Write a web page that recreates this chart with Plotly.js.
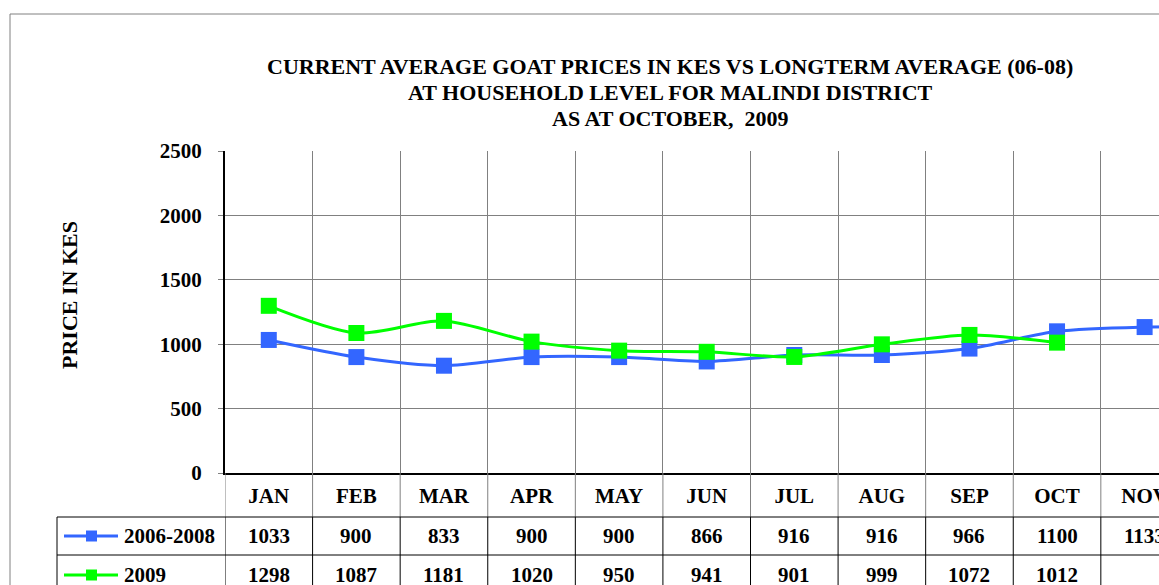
<!DOCTYPE html>
<html>
<head>
<meta charset="utf-8">
<script src="https://cdn.plot.ly/plotly-3.0.1.min.js"></script>
<style>
html,body{margin:0;padding:0;overflow:hidden;background:#fff;width:1159px;height:585px;}
#chart{position:absolute;left:0;top:0;}
</style>
</head>
<body>
<div id="chart"></div>
<script>
var months = ["JAN","FEB","MAR","APR","MAY","JUN","JUL","AUG","SEP","OCT","NOV","DEC"];
var seriesNames = ["2006-2008","2009"];
var longTerm = [1033, 900, 833, 900, 900, 866, 916, 916, 966, 1100, 1133, 1133];
var current2009 = [1298, 1087, 1181, 1020, 950, 941, 901, 999, 1072, 1012, null, null];
var yTicks = [0, 500, 1000, 1500, 2000, 2500];
var titleLines = ["CURRENT AVERAGE GOAT PRICES IN KES VS LONGTERM AVERAGE (06-08)", "AT HOUSEHOLD LEVEL FOR MALINDI DISTRICT", "AS AT OCTOBER,  2009"];
var yTitle = "PRICE IN KES";

var BLUE = "#3366FF", GREEN = "#00FF00";
var W = 1400, H = 640;
var L = 225, T = 151, PH = 322, PW = 1051;
var R = W - L - PW, B = H - T - PH;
function py(p){ return (T + PH - p) / PH; }   // pixel y -> paper y
function px(p){ return (p - L) / PW; }        // pixel x -> paper x
var FAM = "Liberation Serif, Times New Roman, serif";
var FONT = {family: FAM, size: 21, color: "#000", weight: "bold"};

var traces = [
  {x: months, y: longTerm, name: seriesNames[0], type: "scatter", mode: "lines+markers",
   line: {color: BLUE, width: 3, shape: "spline", smoothing: 0.8},
   marker: {symbol: "square", size: 16, color: BLUE}, cliponaxis: false},
  {x: months, y: current2009, name: seriesNames[1], type: "scatter", mode: "lines+markers",
   line: {color: GREEN, width: 3, shape: "spline", smoothing: 0.8},
   marker: {symbol: "square", size: 16, color: GREEN}, connectgaps: false}
];

var shapes = [];
var annotations = [];
var rowTop = py(517), row1 = py(555), row2 = py(595);
var rowC = [py(536), py(575)];
// outer frame
shapes.push({type: "rect", xref: "paper", yref: "paper", x0: px(10), x1: px(10) + 2, y0: row2 - 1, y1: py(14), line: {color: "#808080", width: 1}, fillcolor: "rgba(0,0,0,0)", layer: "below"});
// header row vertical gray lines at boundaries, black in data rows
for (var i = 0; i <= months.length; i++) {
  shapes.push({type: "line", xref: "x", yref: "paper", x0: i - 0.5, x1: i - 0.5, y0: rowTop, y1: 0, line: {color: "#808080", width: 1}});
  shapes.push({type: "line", xref: "x", yref: "paper", x0: i - 0.5, x1: i - 0.5, y0: row2, y1: rowTop, line: {color: "#000", width: 1}});
}
// legend column left edge
shapes.push({type: "line", xref: "paper", yref: "paper", x0: px(57), x1: px(57), y0: row2, y1: rowTop, line: {color: "#000", width: 1}});
// horizontal table lines
[rowTop, row1, row2].forEach(function(yy){
  shapes.push({type: "line", xref: "paper", yref: "paper", x0: px(57), x1: 1.2, y0: yy, y1: yy, line: {color: "#000", width: 1}});
});
// legend keys in table
var keyColors = [BLUE, GREEN];
for (var s = 0; s < 2; s++) {
  shapes.push({type: "line", xref: "paper", yref: "paper", x0: px(64), x1: px(118), y0: rowC[s], y1: rowC[s], line: {color: keyColors[s], width: 3}});
  shapes.push({type: "rect", xref: "paper", yref: "paper", x0: px(86), x1: px(97), y0: rowC[s] - 5.5/PH, y1: rowC[s] + 5.5/PH, line: {width: 0}, fillcolor: keyColors[s]});
  annotations.push({xref: "paper", yref: "paper", x: px(122), y: rowC[s], xanchor: "left", yanchor: "middle", text: seriesNames[s], showarrow: false, font: FONT});
}
// table values
var tableSeries = [longTerm, current2009];
for (var s2 = 0; s2 < 2; s2++) {
  for (var j = 0; j < months.length; j++) {
    var v = tableSeries[s2][j];
    if (v === null || (s2 === 0 && j === months.length - 1)) continue;
    annotations.push({xref: "x", yref: "paper", x: months[j], y: rowC[s2], xanchor: "center", yanchor: "middle", text: String(v), showarrow: false, font: FONT});
  }
}
// y-axis title
annotations.push({xref: "paper", yref: "paper", x: px(69), y: py(295), xanchor: "center", yanchor: "middle", textangle: -90,
  text: yTitle, showarrow: false, font: {family: FAM, size: 22, color: "#000", weight: "bold"}});
// chart title lines
var titleY = [66, 92, 118];
for (var k = 0; k < titleLines.length; k++) {
  annotations.push({xref: "paper", yref: "paper", x: px(670), y: py(titleY[k]), xanchor: "center", yanchor: "middle",
    text: titleLines[k], showarrow: false, font: {family: FAM, size: 22, color: "#000", weight: "bold"}});
}

var layout = {
  width: W, height: H,
  margin: {l: L, r: R, t: T, b: B},
  paper_bgcolor: "#fff", plot_bgcolor: "#fff",
  showlegend: false,
  xaxis: {type: "category", categoryarray: months, range: [-0.5, 11.5], tickson: "boundaries",
          showgrid: true, gridcolor: "#808080", gridwidth: 1, ticks: "", showline: true, linecolor: "#000", linewidth: 2,
          tickfont: FONT, ticklabelstandoff: 3, zeroline: false, fixedrange: true},
  yaxis: {range: [0, 2500], tickvals: yTicks, showgrid: true, gridcolor: "#808080", gridwidth: 1,
          ticks: "outside", ticklen: 5, tickcolor: "#808080", showline: true, linecolor: "#000", linewidth: 2,
          tickfont: FONT, ticklabelstandoff: 12, zeroline: false, fixedrange: true},
  shapes: shapes,
  annotations: annotations
};

Plotly.newPlot("chart", traces, layout, {displayModeBar: false, staticPlot: true});
</script>
</body>
</html>
